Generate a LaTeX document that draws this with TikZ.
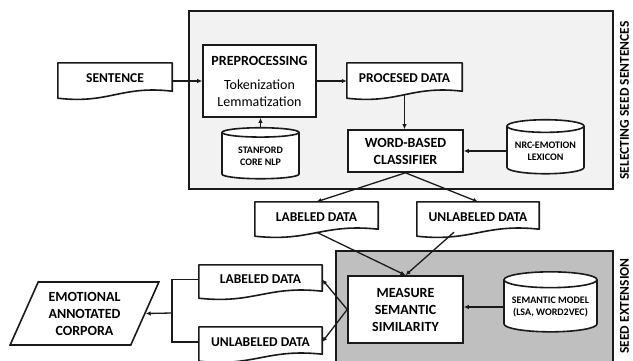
\documentclass[tikz,border=0pt]{standalone}
\usepackage{fontspec}
\setmainfont{Carlito}
\usetikzlibrary{arrows.meta,positioning,calc,shapes.geometric}
\definecolor{PanelLight}{HTML}{F2F2F2}
\definecolor{PanelDark}{HTML}{BFBFBF}
\definecolor{Ink}{HTML}{1A1A1A}
\pgfdeclarelayer{back}
\pgfsetlayers{back,main}

% flat top, wavy bottom (document symbol) drawn behind a named node
\newcommand{\docoutline}[1]{%
  \begin{pgfonlayer}{back}
    \draw[Ink,line width=1.6pt,fill=white,line join=round]
      ($(#1.south west)+(0,-4pt)$) -- (#1.north west) -- (#1.north east)
      -- ($(#1.south east)+(0,3pt)$)
      .. controls ($(#1.south east)!0.45!(#1.south west)+(0,9pt)$)
              and ($(#1.south east)!0.55!(#1.south west)+(0,-10pt)$)
      .. ($(#1.south west)+(0,-4pt)$) -- cycle;
  \end{pgfonlayer}}

\tikzset{
  box/.style={draw=Ink,line width=1.6pt,fill=white,align=center,inner sep=2pt,
    font=\fontsize{14}{17}\selectfont\bfseries},
  doc/.style={align=center,inner sep=0pt,minimum height=30pt,
    font=\fontsize{13.5}{16}\selectfont\bfseries},
  db/.style={cylinder,shape border rotate=90,aspect=0.2,draw=Ink,line width=1.6pt,
    fill=white,align=center,inner sep=1pt,font=\fontsize{10}{12}\selectfont\bfseries},
  link/.style={-{Latex[length=5pt,width=4.5pt]},line width=1.3pt,draw=Ink},
  panel/.style={draw=Ink,line width=1.4pt},
  sidelabel/.style={rotate=90,inner sep=0pt,font=\fontsize{13.5}{16}\selectfont\bfseries}
}

\begin{document}
\begin{tikzpicture}[x=1pt,y=-1pt]
  \useasboundingbox (0,0) rectangle (633,360);

  % stage panels
  \begin{pgfonlayer}{back}
    \draw[panel,fill=PanelLight] (189,11) rectangle (613,189);
    \draw[panel,fill=PanelDark] (336,251) rectangle (613,366);
  \end{pgfonlayer}
  \node[sidelabel] (selecting) at (624.5,100.5) {SELECTING SEED SENTENCES};
  \node[sidelabel] (extension) at (624.5,306) {SEED EXTENSION};

  % selecting seed sentences
  \node[doc,minimum width=114pt,minimum height=31pt] (sentence) at (115,78.5) {SENTENCE};
  \node[box,minimum width=113pt,minimum height=72pt] (prep) at (259.5,81)
    {PREPROCESSING\\[7pt]{\mdseries Tokenization}\\{\mdseries Lemmatization}};
  \node[db,minimum width=77pt,minimum height=51pt] (stanford) at (260.5,156.5) {STANFORD\\CORE NLP};
  \node[doc,minimum width=115pt,minimum height=31pt] (processed) at (404.5,78.5) {PROCESED DATA};
  \node[box,minimum width=115pt,minimum height=42pt] (classifier) at (405.5,151) {WORD-BASED\\CLASSIFIER};
  \node[db,minimum width=77pt,minimum height=54pt] (nrc) at (545.5,151) {NRC-EMOTION\\LEXICON};

  % split result
  \node[doc,minimum width=123pt] (labeled) at (316.5,217) {LABELED DATA};
  \node[doc,minimum width=122pt] (unlabeled) at (478,217) {UNLABELED DATA};

  % seed extension
  \node[box,minimum width=115pt,minimum height=67pt] (measure) at (405.5,309.5) {MEASURE\\SEMANTIC\\SIMILARITY};
  \node[db,minimum width=93pt,minimum height=60pt] (semantic) at (550.5,307) {SEMANTIC MODEL\\(LSA, WORD2VEC)};
  \node[doc,minimum width=123pt,minimum height=29pt] (outlabeled) at (260.5,279.5) {LABELED DATA};
  \node[doc,minimum width=123pt] (outunlabeled) at (260.5,342) {UNLABELED DATA};
  \node[box,trapezium,trapezium left angle=64,trapezium right angle=116,trapezium stretches=true,
    minimum width=149pt,minimum height=63pt] (corpora) at (84.5,313.5) {EMOTIONAL\\ANNOTATED\\CORPORA};

  \foreach \d in {sentence,processed,labeled,unlabeled,outlabeled,outunlabeled}
    \docoutline{\d};

  % connectors
  \draw[link] (sentence.east |- prep.west) -- (prep.west);
  \draw[link] (prep.east) -- (prep.east -| processed.west);
  \draw[link] (stanford.north) -- (stanford.north |- prep.south);
  \draw[link] (processed.south) -- (processed.south |- classifier.north);
  \draw[link] (nrc.west) -- (nrc.west -| classifier.east);
  \draw[link] (classifier.south) -- (labeled.north);
  \draw[link] (classifier.south) -- (unlabeled.north);
  \draw[link] (labeled.south) -- (measure.north);
  \draw[link] ($(unlabeled.south)+(-24,0)$) -- (measure.north);
  \draw[link] (semantic.west) -- (semantic.west -| measure.east);
  \draw[link] (measure.west) -- (outlabeled.east);
  \draw[link] (measure.west) -- (outunlabeled.east);
  \coordinate (merge) at (172,313);
  \draw[line width=1.3pt,Ink] (outlabeled.west) -| (merge) |- (outunlabeled.west);
  \draw[link] (merge) -- (corpora.east);
\end{tikzpicture}
\end{document}
